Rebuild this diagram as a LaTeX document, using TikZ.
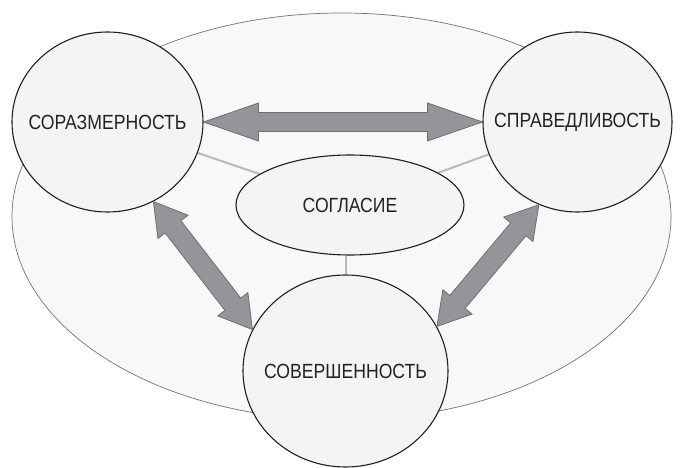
\documentclass[tikz,border=0pt]{standalone}
\usepackage{fontspec}
\setmainfont{Liberation Sans}[FakeStretch=0.86]
\usetikzlibrary{calc,shapes.geometric}
\definecolor{arrfill}{HTML}{939598}
\definecolor{arrline}{HTML}{6D6E71}
\definecolor{circfill}{HTML}{F4F4F4}
\definecolor{bgfill}{HTML}{F8F8F8}
\definecolor{txt}{HTML}{222222}
\pgfdeclarelayer{backmost}
\pgfdeclarelayer{links}
\pgfsetlayers{backmost,links,main}
\newcommand\fatarrow[5]{%
  \fill[fatarr] (#1)
    -- ($(#1)!#3!(#2)!#4!90:(#2)$)
    -- ($(#1)!#3!(#2)!#5!90:(#2)$)
    -- ($(#2)!#3!(#1)!#5!-90:(#1)$)
    -- ($(#2)!#3!(#1)!#4!-90:(#1)$)
    -- (#2)
    -- ($(#2)!#3!(#1)!#4!90:(#1)$)
    -- ($(#2)!#3!(#1)!#5!90:(#1)$)
    -- ($(#1)!#3!(#2)!#5!-90:(#2)$)
    -- ($(#1)!#3!(#2)!#4!-90:(#2)$)
    -- cycle;}
\tikzset{
  fatarr/.style={fill=arrfill,draw=arrline,line width=0.8pt,line join=miter},
  bubble/.style={ellipse,draw=black!88,line width=1.1pt,fill=circfill,inner sep=0pt},
  bubtext/.style={text=txt,font=\fontsize{20.5}{24}\selectfont,inner sep=0pt},
  link/.style={draw=black!27,line width=2pt},
}
\begin{document}
\begin{tikzpicture}[x=1pt,y=-1pt]
\useasboundingbox (0,0) rectangle (697,468);
\begin{pgfonlayer}{backmost}
\fill[white] (0,0) rectangle (697,468);
\node[ellipse,draw=black!55,line width=0.7pt,fill=bgfill,minimum width=659pt,minimum height=407pt,inner sep=0pt] (O) at (341.5,216.5) {};
\end{pgfonlayer}
\node[bubble,minimum width=191pt,minimum height=180pt] (L) at (107.5,122) {};
\node[bubble,minimum width=189pt,minimum height=180pt] (R) at (577.5,122) {};
\node[bubble,minimum width=205pt,minimum height=192pt] (B) at (345.5,371) {};
\node[bubble,minimum width=228pt,minimum height=100pt] (C) at (350,205) {};
\node[bubtext] (Lt) at (L) {СОРАЗМЕРНОСТЬ};
\node[bubtext] (Rt) at (R) {СПРАВЕДЛИВОСТЬ};
\node[bubtext] (Bt) at (B) {СОВЕРШЕННОСТЬ};
\node[bubtext] (Ct) at (C) {СОГЛАСИЕ};
\begin{pgfonlayer}{links}
\path[link] (L) -- (C);
\path[link] (R) -- (C);
\path[link] (B.north) -- (B.north |- C.south);
\end{pgfonlayer}
\coordinate (lr1) at (L.east);
\coordinate (lr2) at (R.west);
\coordinate (lb1) at (L.-60);
\coordinate (lb2) at (B.156);
\coordinate (rb1) at (R.-115);
\coordinate (rb2) at (B.26);
\fatarrow{lr1}{lr2}{55pt}{19pt}{9.5pt}
\fatarrow{lb1}{lb2}{32pt}{19pt}{10pt}
\fatarrow{rb1}{rb2}{32pt}{19pt}{10pt}
\end{tikzpicture}
\end{document}
